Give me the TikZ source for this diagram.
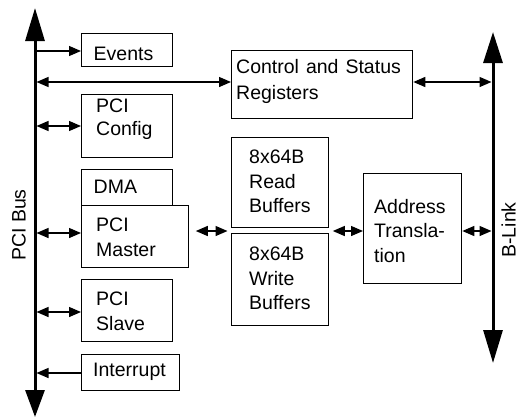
\documentclass[tikz,border=0pt]{standalone}
\usepackage{fontspec}
\setmainfont{Liberation Sans}
\usetikzlibrary{arrows.meta}
\begin{document}
\begin{tikzpicture}[x=1pt,y=-1pt,
  box/.style={draw, line width=1.3pt, fill=white, inner sep=0pt, anchor=north west},
  txt/.style={anchor=north west, inner sep=0pt, align=left, font=\fontsize{19.5}{24.5}\selectfont},
  vlabel/.style={rotate=90, inner sep=0pt, font=\fontsize{19.5}{24.5}\selectfont},
  bus/.style={line width=3pt},
  sarr/.style={line width=1.3pt, -{Triangle[length=12pt,width=10pt]}},
  darr/.style={line width=1.3pt, {Triangle[length=12pt,width=10pt]}-{Triangle[length=12pt,width=10pt]}},
]
\fill[white] (0,0) rectangle (519,418);
\useasboundingbox (0,0) rectangle (519,418);

% boxes
\node[box, minimum width=91pt, minimum height=33pt] (events) at (81,33) {};
\node[box, minimum width=181pt, minimum height=68pt] (csr) at (231,50) {};
\node[box, minimum width=91pt, minimum height=63pt] (config) at (81,94) {};
\node[box, minimum width=91pt, minimum height=43pt] (dma) at (81,169) {};
\node[box, minimum width=107pt, minimum height=62pt] (master) at (81,205) {};
\node[box, minimum width=91pt, minimum height=62pt] (slave) at (81,279) {};
\node[box, minimum width=98pt, minimum height=36pt] (interrupt) at (81,354) {};
\node[box, minimum width=97pt, minimum height=90pt] (rbuf) at (231,137) {};
\node[box, minimum width=97pt, minimum height=92pt] (wbuf) at (231,233) {};
\node[box, minimum width=98pt, minimum height=110pt] (addr) at (363,173) {};

% texts
\node[txt] (tEvents) at (93.5,47) {Events};
\node[txt, font=\fontsize{19.5}{26}\selectfont] (tCsr) at (236,59) {Control\hspace{7pt}and\hspace{7pt}Status\\Registers};
\node[txt, font=\fontsize{19.5}{23}\selectfont] (tConfig) at (96,99) {PCI\\Config};
\node[txt] (tDma) at (93.5,180) {DMA};
\node[txt] (tMaster) at (96,218) {PCI\\Master};
\node[txt] (tSlave) at (96,292) {PCI\\Slave};
\node[txt] (tInt) at (93,363) {Interrupt};
\node[txt] (tRbuf) at (249,150) {8x64B\\Read\\Buffers};
\node[txt] (tWbuf) at (249,247) {8x64B\\Write\\Buffers};
\node[txt] (tAddr) at (374,199) {Address\\Transla-\\tion};

\node[vlabel] (pcilbl) at (19,225) {PCI Bus};
\node[vlabel] (blinklbl) at (508.5,230) {B-Link};

% buses
\coordinate (pciTop) at (35,8);
\coordinate (pciBot) at (35,417);
\draw[bus, {Triangle[length=33pt,width=19pt]}-{Triangle[length=27pt,width=19pt]}] (pciTop) -- (pciBot);
\coordinate (blTop) at (493,32);
\coordinate (blBot) at (493,363);
\draw[bus, {Triangle[length=31pt,width=19pt]}-{Triangle[length=33pt,width=19pt]}] (blTop) -- (blBot);

% connectors
\coordinate (pE) at (35,51);
\draw[sarr] (pE) -- (pE -| events.west);
\coordinate (pC) at (36.5,82);
\draw[darr] (pC) -- (pC -| csr.west);
\coordinate (bC) at (491.5,82);
\draw[darr] (csr.east |- bC) -- (bC);
\coordinate (pCfg) at (36.5,126);
\draw[darr] (pCfg) -- (pCfg -| config.west);
\coordinate (pM) at (36.5,233);
\draw[darr] (pM) -- (pM -| master.west);
\coordinate (pS) at (36.5,312);
\draw[darr] (pS) -- (pS -| slave.west);
\coordinate (pI) at (36.5,373);
\draw[sarr] (pI -| interrupt.west) -- (pI);
\coordinate (mid) at (0,231);
\draw[darr] ([xshift=6.5pt]master.east |- mid) -- ([xshift=-3.5pt]rbuf.west |- mid);
\draw[darr] ([xshift=3.5pt]rbuf.east |- mid) -- (addr.west |- mid);
\coordinate (bA) at (491.5,231);
\draw[darr] (addr.east |- bA) -- (bA);
\end{tikzpicture}
\end{document}
